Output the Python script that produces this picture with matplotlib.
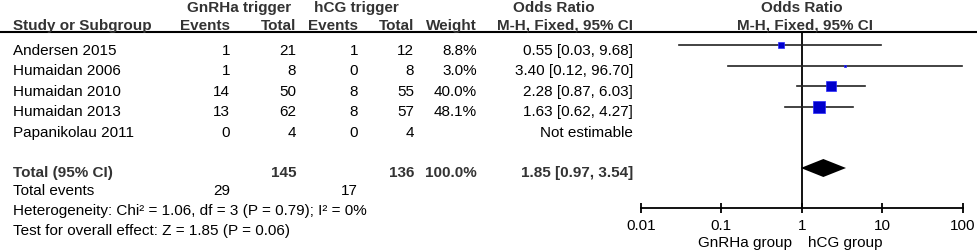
import numpy as np
import matplotlib.pyplot as plt

plt.rcParams['font.family'] = ['Liberation Sans', 'DejaVu Sans']

studies = ['Andersen 2015', 'Humaidan 2006', 'Humaidan 2010', 'Humaidan 2013', 'Papanikolau 2011']
gn_events = [1, 1, 14, 13, 0]
gn_total = [21, 8, 50, 62, 4]
hcg_events = [1, 0, 8, 8, 0]
hcg_total = [12, 8, 55, 57, 4]
weights = [8.8, 3.0, 40.0, 48.1, None]
odds = [0.55, 3.40, 2.28, 1.63, None]
ci_low = [0.03, 0.12, 0.87, 0.62, None]
ci_high = [9.68, 96.70, 6.03, 4.27, None]

total_gn, total_hcg = 145, 136
total_weight = 100.0
events_gn, events_hcg = 29, 17
total_or, total_lo, total_hi = 1.85, 0.97, 3.54
heterogeneity = 'Heterogeneity: Chi² = 1.06, df = 3 (P = 0.79); I² = 0%'
overall = 'Test for overall effect: Z = 1.85 (P = 0.06)'
ticks = [0.01, 0.1, 1, 10, 100]

W, H = 978, 251
fig = plt.figure(figsize=(W / 100, H / 100), dpi=100)
tab = fig.add_axes([0, 0, 1, 1])
tab.set_xlim(0, W)
tab.set_ylim(H, 0)
tab.axis('off')

fs = 11
hdr = dict(fontsize=fs, fontweight='bold', color='#333333', va='baseline')
txt = dict(fontsize=fs, color='black', va='baseline')

# headers
tab.text(239, 12, 'GnRHa trigger', ha='center', **hdr)
tab.text(356, 12, 'hCG trigger', ha='center', **hdr)
tab.text(554, 12, 'Odds Ratio', ha='center', **hdr)
tab.text(802, 12, 'Odds Ratio', ha='center', **hdr)
tab.text(13, 30, 'Study or Subgroup', ha='left', **hdr)
tab.text(230, 30, 'Events', ha='right', **hdr)
tab.text(296, 30, 'Total', ha='right', **hdr)
tab.text(358, 30, 'Events', ha='right', **hdr)
tab.text(414, 30, 'Total', ha='right', **hdr)
tab.text(477, 30, 'Weight', ha='right', **hdr)
tab.text(633, 30, 'M-H, Fixed, 95% CI', ha='right', **hdr)
tab.text(805, 30, 'M-H, Fixed, 95% CI', ha='center', **hdr)
tab.axhline(33, color='black', lw=1.5)

row_y = [55, 75.5, 96, 116.5, 137]
for i, y in enumerate(row_y):
    tab.text(13, y, studies[i], ha='left', **txt)
    tab.text(230, y, str(gn_events[i]), ha='right', **txt)
    tab.text(296, y, str(gn_total[i]), ha='right', **txt)
    tab.text(358, y, str(hcg_events[i]), ha='right', **txt)
    tab.text(414, y, str(hcg_total[i]), ha='right', **txt)
    if weights[i] is not None:
        tab.text(477, y, f'{weights[i]:.1f}%', ha='right', **txt)
        tab.text(633, y, f'{odds[i]:.2f} [{ci_low[i]:.2f}, {ci_high[i]:.2f}]', ha='right', **txt)
    else:
        tab.text(633, y, 'Not estimable', ha='right', **txt)

tab.text(13, 177, 'Total (95% CI)', ha='left', **hdr)
tab.text(296, 177, str(total_gn), ha='right', **hdr)
tab.text(414, 177, str(total_hcg), ha='right', **hdr)
tab.text(477, 177, f'{total_weight:.1f}%', ha='right', **hdr)
tab.text(633, 177, f'{total_or:.2f} [{total_lo:.2f}, {total_hi:.2f}]', ha='right', **hdr)
tab.text(13, 195, 'Total events', ha='left', **txt)
tab.text(230, 195, str(events_gn), ha='right', **txt)
tab.text(358, 195, str(events_hcg), ha='right', **txt)
tab.text(13, 215, heterogeneity, ha='left', **txt)
tab.text(13, 235, overall, ha='left', **txt)

# forest plot
x0, x1, ytop, ybot = 641, 962.7, 33, 209
ax = fig.add_axes([x0 / W, 1 - ybot / H, (x1 - x0) / W, (ybot - ytop) / H])
ax.patch.set_alpha(0)
ax.set_xscale('log')
ax.set_xlim(ticks[0], ticks[-1])
ax.set_ylim(ybot, ytop)
for s in ['top', 'left', 'right']:
    ax.spines[s].set_visible(False)
ax.spines['bottom'].set_linewidth(1.3)
ax.set_yticks([])
ax.set_xticks(ticks)
ax.set_xticklabels(['0.01', '0.1', '1', '10', '100'])
ax.minorticks_off()
ax.tick_params(axis='x', direction='inout', length=7, width=1.3, pad=4, labelsize=fs)
ax.axvline(1, color='black', lw=1.3)

for i, y in enumerate(row_y):
    if odds[i] is None:
        continue
    yc = y - 9
    ax.plot([ci_low[i], ci_high[i]], [yc, yc], color='#222222', lw=1.2)
    side = 1.7 * np.sqrt(weights[i]) * 0.72
    ax.plot(odds[i], yc, marker='s', ms=side, color='#0000cc', mec='#2a2aff', mew=0.5)

yd = 169
ax.fill([total_lo, total_or, total_hi, total_or], [yd, yd - 9, yd, yd + 9], color='black', lw=0)

tab.text(792, 247, 'GnRHa group', ha='right', **txt)
tab.text(808, 247, 'hCG group', ha='left', **txt)

fig.savefig('out.png', dpi=100)
